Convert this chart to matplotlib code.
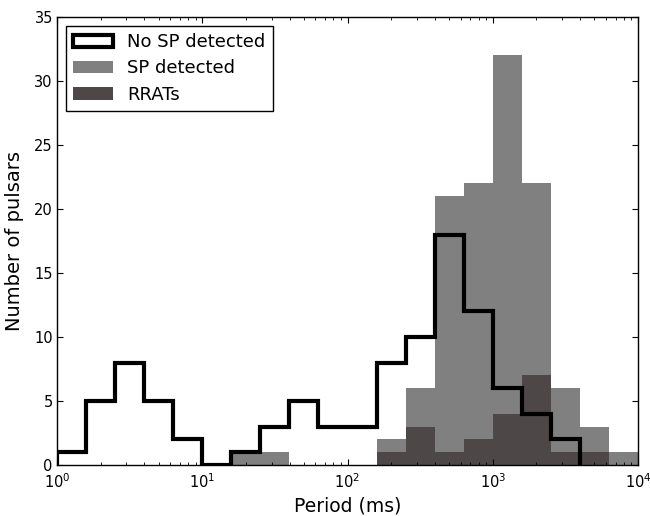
import numpy as np
import matplotlib
matplotlib.use("Agg")
import matplotlib.pyplot as plt

edges = 10 ** np.linspace(0, 4, 21)
no_sp = [1, 5, 8, 5, 2, 0, 1, 3, 5, 3, 3, 8, 10, 18, 12, 6, 4, 2]
sp = [0, 0, 0, 0, 0, 0, 1, 1, 0, 0, 0, 2, 6, 21, 22, 32, 22, 6, 3, 1]
rrats = [0, 0, 0, 0, 0, 0, 0, 0, 0, 0, 0, 1, 3, 1, 2, 4, 7, 1, 1, 0]

centers = np.sqrt(edges[:-1] * edges[1:])

plt.rcParams.update({
    "font.family": "DejaVu Sans",
    "font.size": 10.5,
    "xtick.direction": "in",
    "ytick.direction": "in",
    "xtick.top": True,
    "ytick.right": True,
    "xtick.major.size": 4,
    "xtick.minor.size": 2,
    "ytick.major.size": 4,
    "ytick.minor.size": 2,
    "xtick.major.pad": 5,
    "ytick.major.pad": 3,
    "axes.linewidth": 1.0,
})

fig = plt.figure(figsize=(6.5, 5.16), dpi=100)
ax = fig.add_axes([57/650, 1-465/516, (638-57)/650, (465-17)/516])

ax.hist(centers, bins=edges, weights=sp, histtype="stepfilled",
        color="#808080", label="SP detected")
ax.hist(centers, bins=edges, weights=rrats, histtype="stepfilled",
        color="#4d4747", label="RRATs")
n_ns = len(no_sp)
ax.hist(centers[:n_ns], bins=edges[:n_ns + 1], weights=no_sp, histtype="step",
        color="black", lw=3, label="No SP detected")

ax.set_xscale("log")
ax.set_xlim(1, 1e4)
ax.set_ylim(0, 35)
ax.set_xlabel("Period (ms)", fontsize=13.5, labelpad=4)
ax.set_ylabel("Number of pulsars", fontsize=14, labelpad=7)

h, l = ax.get_legend_handles_labels()
order = [2, 0, 1]
leg = ax.legend([h[i] for i in order], [l[i] for i in order], loc="upper left",
                fancybox=False, edgecolor="black", fontsize=13,
                handlelength=2.2, borderpad=0.4, labelspacing=0.45,
                handletextpad=0.8, framealpha=1, borderaxespad=0.5)
leg.get_frame().set_linewidth(1.0)

fig.savefig("out.png", dpi=100, facecolor="white")
